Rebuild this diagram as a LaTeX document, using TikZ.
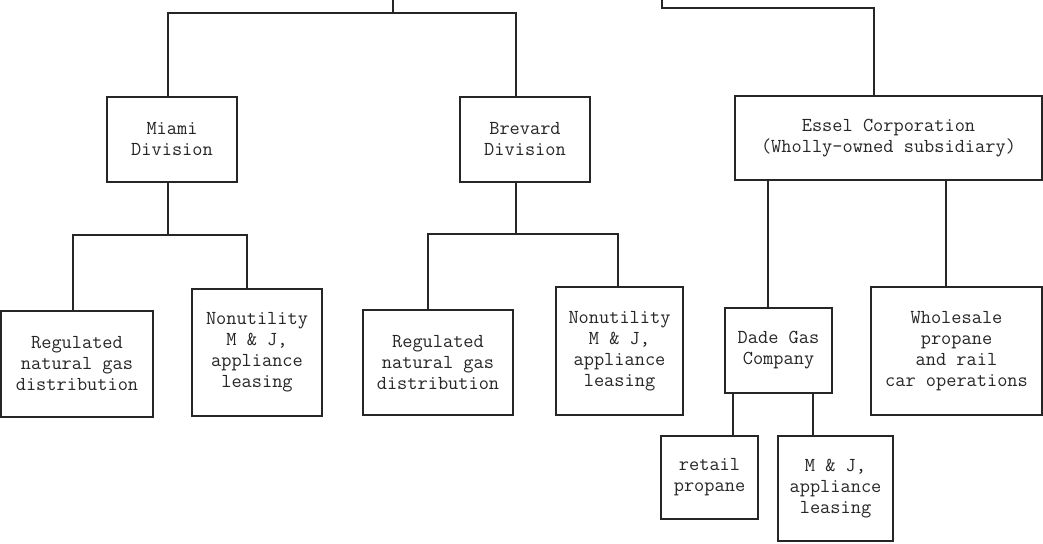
\documentclass[tikz,border=0pt]{standalone}
\usepackage{fontspec}
\begin{document}
\begin{tikzpicture}[x=1pt,y=-1pt,
  box/.style={draw=black!85, line width=1.4pt, align=center, inner sep=0pt,
    font=\ttfamily\fontsize{19.8}{21}\selectfont, text=black!85},
  conn/.style={draw=black!85, line width=1.4pt}]
\useasboundingbox[fill=white] (0,0) rectangle (1043,543);
% boxes
\node[box, minimum width=130pt, minimum height=85pt]  (miami)   at (172,139.5) {Miami\\Division};
\node[box, minimum width=130pt, minimum height=85pt]  (brevard) at (525,139.5) {Brevard\\Division};
\node[box, minimum width=307pt, minimum height=84pt]  (essel)   at (888.5,138) {Essel Corporation\\(Wholly-owned subsidiary)};
\node[box, minimum width=152pt, minimum height=106pt] (reg1)    at (77,364) {Regulated\\natural gas\\distribution};
\node[box, minimum width=130pt, minimum height=127pt] (non1)    at (257,352.5) {Nonutility\\M \& J,\\appliance\\leasing};
\node[box, minimum width=150pt, minimum height=105pt] (reg2)    at (438,362.5) {Regulated\\natural gas\\distribution};
\node[box, minimum width=127pt, minimum height=128pt] (non2)    at (619.5,351) {Nonutility\\M \& J,\\appliance\\leasing};
\node[box, minimum width=107pt, minimum height=85pt]  (dade)    at (778.5,350.5) {Dade Gas\\Company};
\node[box, minimum width=171pt, minimum height=128pt] (whole)   at (956.5,351) {Wholesale\\propane\\and rail\\car operations};
\node[box, minimum width=97pt,  minimum height=83pt]  (retail)  at (709.5,477.5) {retail\\propane};
\node[box, minimum width=115pt, minimum height=105pt] (mj)      at (835.5,488.5) {M \& J,\\appliance\\leasing};
% junction coordinates
\coordinate (t1) at (393,0);
\coordinate (j1) at (393,13);
\coordinate (ma) at (168,13);
\coordinate (ba) at (516,13);
\coordinate (t2) at (662,0);
\coordinate (j2) at (662,8);
\coordinate (ea) at (874,8);
\coordinate (mh) at (168,235);
\coordinate (mL) at (73,235);
\coordinate (mR) at (247,235);
\coordinate (bh) at (516,234);
\coordinate (bL) at (428,234);
\coordinate (bR) at (618,234);
\coordinate (eL) at (768,200);
\coordinate (eR) at (946,200);
\coordinate (dL) at (733,400);
\coordinate (dR) at (813,400);
% connectors
\draw[conn] (t1) -- (j1);
\draw[conn] (miami.north -| ma) -- (ma) -- (ba) -- (brevard.north -| ba);
\draw[conn] (t2) -- (j2) -- (ea) -- (essel.north -| ea);
\draw[conn] (miami.south -| mh) -- (mh);
\draw[conn] (reg1.north -| mL) -- (mL) -- (mR) -- (non1.north -| mR);
\draw[conn] (brevard.south -| bh) -- (bh);
\draw[conn] (reg2.north -| bL) -- (bL) -- (bR) -- (non2.north -| bR);
\draw[conn] (essel.south -| eL) -- (dade.north -| eL);
\draw[conn] (essel.south -| eR) -- (whole.north -| eR);
\draw[conn] (dade.south -| dL) -- (retail.north -| dL);
\draw[conn] (dade.south -| dR) -- (mj.north -| dR);
\end{tikzpicture}
\end{document}
